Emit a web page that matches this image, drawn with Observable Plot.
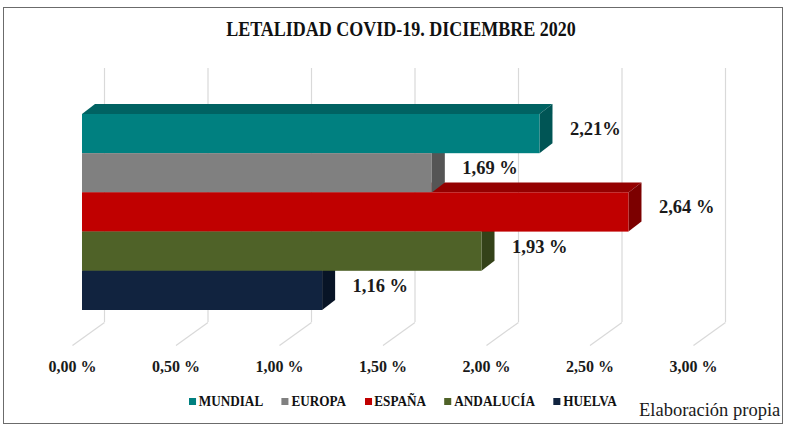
<!DOCTYPE html>
<html>
<head>
<meta charset="utf-8">
<script src="https://cdn.jsdelivr.net/npm/d3@7"></script>
<script src="https://cdn.jsdelivr.net/npm/@observablehq/plot@0.6"></script>
<style>
  html, body { margin: 0; padding: 0; background: #fff; }
  #wrap { position: relative; width: 786px; height: 426px; overflow: hidden; font-family: "Liberation Serif", "DejaVu Serif", serif; }
  #frame { position: absolute; left: 3px; top: 7px; width: 778px; height: 415px; border: 1.5px solid #6b6b6b; }
  #title { position: absolute; left: 401px; top: 18px; transform: translateX(-50%) scaleX(0.9); white-space: nowrap; font-weight: bold; font-size: 20px; color: #111; }
  #chart { position: absolute; left: 0; top: 0; }
  #legend { position: absolute; left: 189px; top: 393px; display: flex; align-items: center; gap: 21px; font-weight: bold; font-size: 15px; color: #111; transform: scaleX(0.88); transform-origin: left center; }
  #legend .item { display: flex; align-items: center; gap: 3px; }
  #legend .sw { width: 8px; height: 7px; display: inline-block; }
  #caption { position: absolute; left: 639px; top: 400px; font-size: 18.5px; color: #1a1a1a; white-space: nowrap; }
</style>
</head>
<body>
<div id="wrap">
  <div id="frame"></div>
  <div id="chart"></div>
  <div id="title"></div>
  <div id="legend"></div>
  <div id="caption"></div>
</div>
<script>
// ---- data ----
const titleText = "LETALIDAD COVID-19. DICIEMBRE 2020";
const captionText = "Elaboración propia";
const categories = ["MUNDIAL", "EUROPA", "ESPAÑA", "ANDALUCÍA", "HUELVA"];
const values = [2.21, 1.69, 2.64, 1.93, 1.16];
const valueLabels = ["2,21%", "1,69 %", "2,64 %", "1,93 %", "1,16 %"];
const frontColors = ["#008080", "#808080", "#C00000", "#4F6228", "#11233F"];
const topColors = ["#006262", "#666666", "#940000", "#3E4D1F", "#0C1A30"];
const sideColors = ["#005555", "#555555", "#7C0000", "#344219", "#081426"];
const tickValues = [0, 0.5, 1, 1.5, 2, 2.5, 3];
const tickLabels = ["0,00 %", "0,50 %", "1,00 %", "1,50 %", "2,00 %", "2,50 %", "3,00 %"];

// ---- geometry helpers (styling constants) ----
const PXX = 207;     // px per 1 % on x
const PXY = 39.2;    // px per bar band on y
const UX = 1 / PXX, UY = 1 / PXY;
const DX = 13 * UX, DY = 10 * UY;           // bar depth
const WALL_DX = 22 * UX;                    // back wall offset
const FLOOR_DX = -10 * UX;                  // front floor edge offset
const WALL_TOP = (68 - 114) * UY, WALL_BOTTOM = (322 - 114) * UY, FLOOR_FRONT = (345 - 114) * UY;
const TICK_Y = (366 - 114) * UY;

const bars = categories.map((name, i) => ({
  name, i, value: values[i], label: valueLabels[i],
  front: frontColors[i], top: topColors[i], side: sideColors[i]
}));

const topPts = bars.flatMap(b => [
  {name: b.name, y: b.i, x1: 0, x2: b.value, c: b.top},
  {name: b.name, y: b.i - DY, x1: DX, x2: b.value + DX, c: b.top}
]);
const sidePts = bars.flatMap(b => [
  {name: b.name, x: b.value, y1: b.i, y2: b.i + 1, c: b.side},
  {name: b.name, x: b.value + DX, y1: b.i - DY, y2: b.i + 1 - DY, c: b.side}
]);

const font = "Liberation Serif";
const chart = Plot.plot({
  width: 786,
  height: 426,
  margin: 0,
  style: {background: "transparent", overflow: "visible"},
  x: {domain: [0, 3], range: [82, 82 + 3 * PXX], axis: null},
  y: {domain: [0, 5], range: [114, 114 + 5 * PXY], axis: null},
  color: {type: "identity"},
  marks: [
    Plot.ruleX(tickValues, {x: d => d + WALL_DX, y1: WALL_TOP, y2: WALL_BOTTOM, stroke: "#d9d9d9", strokeWidth: 1.2}),
    Plot.link(tickValues, {x1: d => d + WALL_DX, y1: WALL_BOTTOM, x2: d => d + FLOOR_DX, y2: FLOOR_FRONT, stroke: "#d9d9d9", strokeWidth: 1.2}),
    Plot.areaX(topPts, {y: "y", x1: "x1", x2: "x2", z: "name", fill: "c"}),
    Plot.areaY(sidePts, {x: "x", y1: "y1", y2: "y2", z: "name", fill: "c"}),
    Plot.rect(bars, {x1: 0, x2: "value", y1: "i", y2: d => d.i + 1, fill: "front"}),
    Plot.text(bars, {x: "value", y: d => d.i + 0.5, text: "label", dx: 30, dy: -5, textAnchor: "start",
      fontFamily: font, fontWeight: "bold", fontSize: 18.5, fill: "#1a1a1a"}),
    Plot.text(tickValues, {x: d => d + FLOOR_DX, y: TICK_Y, text: (d, i) => tickLabels[i],
      fontFamily: font, fontWeight: "bold", fontSize: 16, fill: "#1a1a1a"})
  ]
});
document.getElementById("chart").appendChild(chart);

document.getElementById("title").textContent = titleText;
document.getElementById("caption").textContent = captionText;
const legend = document.getElementById("legend");
categories.forEach((c, i) => {
  const item = document.createElement("span");
  item.className = "item";
  const sw = document.createElement("span");
  sw.className = "sw";
  sw.style.background = frontColors[i];
  const t = document.createElement("span");
  t.textContent = c;
  item.appendChild(sw);
  item.appendChild(t);
  legend.appendChild(item);
});
</script>
</body>
</html>
